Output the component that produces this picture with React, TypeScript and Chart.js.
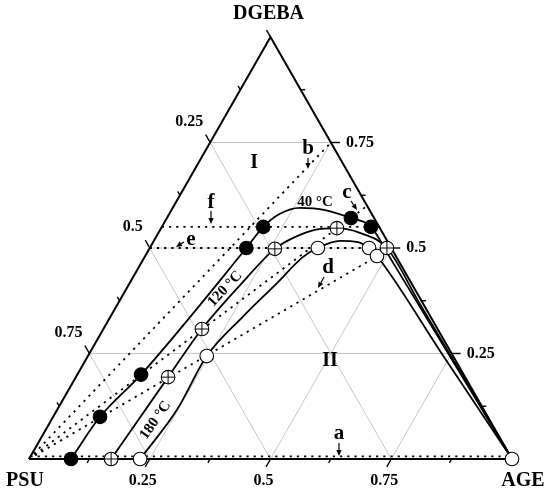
import React, { useEffect, useRef } from 'react';
import { Chart, registerables } from 'chart.js';

Chart.register(...registerables);

// composition triples: [PSU, DGEBA, AGE] (weight fractions)
type Comp = [number, number, number];

const VERTEX_NAMES = ['PSU', 'DGEBA', 'AGE'];
const GRID_LEVELS = [0.25, 0.5, 0.75];
const MAJOR_TICKS = [0.25, 0.5, 0.75];
const MINOR_TICKS = [0.125, 0.375, 0.625, 0.875];
const BOTTOM_TICK_LABELS = ['0.25', '0.5', '0.75']; // AGE
const RIGHT_TICK_LABELS = ['0.25', '0.5', '0.75']; // DGEBA
const LEFT_TICK_LABELS = ['0.75', '0.5', '0.25']; // PSU (at DGEBA = 0.25, 0.5, 0.75)

// cloud-point curves
const CURVE_40C: Comp[] = [
  [0.913, 0, 0.087], [0.803, 0.1, 0.097], [0.668, 0.2, 0.132], [0.3, 0.5, 0.2],
  [0.24, 0.55, 0.21], [0.19, 0.581, 0.229], [0.142, 0.595, 0.263], [0.092, 0.59, 0.318],
  [0.048, 0.571, 0.381], [0.017, 0.55, 0.433], [0.014, 0.476, 0.51], [0, 0, 1],
];
const POINTS_40C: Comp[] = [
  [0.913, 0, 0.087], [0.803, 0.1, 0.097], [0.668, 0.2, 0.132], [0.3, 0.5, 0.2],
  [0.24, 0.55, 0.21], [0.048, 0.571, 0.381], [0.017, 0.55, 0.433],
];

const CURVE_120C: Comp[] = [
  [0.83, 0, 0.17], [0.615, 0.194, 0.191], [0.488, 0.308, 0.204], [0.357, 0.412, 0.231],
  [0.242, 0.498, 0.26], [0.186, 0.526, 0.288], [0.137, 0.543, 0.32], [0.089, 0.547, 0.364],
  [0.047, 0.536, 0.417], [0.009, 0.5, 0.491], [0.007, 0.368, 0.625], [0, 0, 1],
];
const POINTS_120C: Comp[] = [
  [0.83, 0, 0.17], [0.615, 0.194, 0.191], [0.488, 0.308, 0.204], [0.242, 0.498, 0.26],
  [0.089, 0.547, 0.364], [0.009, 0.5, 0.491],
];

const CURVE_180C: Comp[] = [
  [0.77, 0, 0.23], [0.636, 0.116, 0.248], [0.51, 0.244, 0.246], [0.389, 0.337, 0.274],
  [0.278, 0.417, 0.305], [0.193, 0.479, 0.328], [0.152, 0.5, 0.348], [0.098, 0.517, 0.385],
  [0.062, 0.514, 0.424], [0.046, 0.5, 0.454], [0.039, 0.481, 0.48], [0.021, 0.256, 0.723],
  [0, 0, 1],
];
const POINTS_180C: Comp[] = [
  [0.77, 0, 0.23], [0.51, 0.244, 0.246], [0.152, 0.5, 0.348], [0.046, 0.5, 0.454],
  [0.039, 0.481, 0.48], [0, 0, 1],
];

// experimental paths (dotted)
const PATH_A: Comp[] = [[0.994, 0.006, 0], [0, 0.006, 0.994]];
const PATH_B: Comp[] = [[1, 0, 0], [0, 0.75, 0.25]];
const PATH_C: Comp[] = [[1, 0, 0], [0, 0.6, 0.4]];
const PATH_D: Comp[] = [[1, 0, 0], [0, 0.5, 0.5]];
const PATH_E: Comp[] = [[0.5, 0.5, 0], [0, 0.5, 0.5]];
const PATH_F: Comp[] = [[0.45, 0.55, 0], [0, 0.55, 0.45]];

const TEMP_LABELS = ['40 °C', '120 °C', '180 °C'];
const REGION_LABELS = ['I', 'II'];
const PATH_LABELS = ['a', 'b', 'c', 'd', 'e', 'f'];

// annotation layout (chart units: x = AGE + DGEBA/2, y = DGEBA)
const TEMP_LAYOUT = [
  { x: 0.592, y: 0.609, rot: 0 },
  { x: 0.406, y: 0.403, rot: -47 },
  { x: 0.262, y: 0.092, rot: -55 },
];
const REGION_LAYOUT = [
  { x: 0.466, y: 0.701 },
  { x: 0.623, y: 0.232 },
];
const PATH_LABEL_LAYOUT = [
  { lx: 0.6418, ly: 0.0592, sx: 0.6418, sy: 0.0379, tx: 0.6418, ty: 0.0071 },
  { lx: 0.5776, ly: 0.7346, sx: 0.5776, sy: 0.7133, tx: 0.5776, ty: 0.6872 },
  { lx: 0.6584, ly: 0.6303, sx: 0.6667, sy: 0.6114, tx: 0.6791, ty: 0.59 },
  { lx: 0.619, ly: 0.4526, sx: 0.6108, sy: 0.4313, tx: 0.5983, ty: 0.4052 },
  { lx: 0.3354, ly: 0.519, sx: 0.3209, sy: 0.5142, tx: 0.3043, ty: 0.5024 },
  { lx: 0.3768, ly: 0.6066, sx: 0.3768, sy: 0.5877, tx: 0.3768, ty: 0.5569 },
];

const SERIF = '"Liberation Serif", "Times New Roman", serif';

const toXY = (c: Comp) => ({ x: c[2] + c[1] / 2, y: c[1] });

function lineDs(pts: Comp[], opts: any = {}) {
  return {
    type: 'line',
    data: pts.map(toXY),
    borderColor: '#000',
    borderWidth: 1.5,
    pointRadius: 0,
    fill: false,
    clip: false,
    tension: 0,
    ...opts,
  };
}

const decorPlugin = {
  id: 'ternaryDecor',
  beforeDatasetsDraw(chart: any) {
    const ctx = chart.ctx;
    const xs = chart.scales.x;
    const ys = chart.scales.y;
    const P = (c: Comp) => [xs.getPixelForValue(c[2] + c[1] / 2), ys.getPixelForValue(c[1])];
    const pPSU = P([1, 0, 0]);
    const pAGE = P([0, 0, 1]);
    const pDGE = P([0, 1, 0]);
    const unit = (a: number[], b: number[]) => {
      const dx = b[0] - a[0];
      const dy = b[1] - a[1];
      const l = Math.hypot(dx, dy);
      return [dx / l, dy / l];
    };
    const dBottom = unit(pDGE, pPSU);
    const dRight = unit(pPSU, pAGE);
    const dLeft = unit(pAGE, pDGE);
    ctx.save();
    ctx.strokeStyle = '#000';
    ctx.lineWidth = 1.4;
    const tick = (p: number[], d: number[], len: number) => {
      ctx.beginPath();
      ctx.moveTo(p[0], p[1]);
      ctx.lineTo(p[0] + d[0] * len, p[1] + d[1] * len);
      ctx.stroke();
    };
    const all = [
      ...MAJOR_TICKS.map((v) => ({ v, len: 9 })),
      ...MINOR_TICKS.map((v) => ({ v, len: 4.5 })),
    ];
    all.forEach(({ v, len }) => {
      tick(P([1 - v, 0, v]), dBottom, len);
      tick(P([0, v, 1 - v]), dRight, len);
      tick(P([1 - v, v, 0]), dLeft, len);
    });
    tick(pDGE, dLeft, 8);

    ctx.fillStyle = '#000';
    ctx.font = `bold 16px ${SERIF}`;
    ctx.textBaseline = 'middle';
    MAJOR_TICKS.forEach((v, i) => {
      const b = P([1 - v, 0, v]);
      ctx.textAlign = 'center';
      ctx.fillText(BOTTOM_TICK_LABELS[i], b[0] - 7, b[1] + 22);
      const r = P([0, v, 1 - v]);
      ctx.textAlign = 'left';
      ctx.fillText(RIGHT_TICK_LABELS[i], r[0] + 15, r[1]);
      const l = P([1 - v, v, 0]);
      ctx.textAlign = 'right';
      ctx.fillText(LEFT_TICK_LABELS[i], l[0] - 7, l[1] - 21);
    });

    ctx.font = `bold 20px ${SERIF}`;
    ctx.textAlign = 'center';
    ctx.fillText(VERTEX_NAMES[0], pPSU[0] - 4, pPSU[1] + 22);
    ctx.fillText(VERTEX_NAMES[1], pDGE[0] - 2, pDGE[1] - 23);
    ctx.fillText(VERTEX_NAMES[2], pAGE[0] + 11, pAGE[1] + 22);
    ctx.restore();
  },
  afterDatasetsDraw(chart: any) {
    const ctx = chart.ctx;
    const xs = chart.scales.x;
    const ys = chart.scales.y;
    const Q = (x: number, y: number) => [xs.getPixelForValue(x), ys.getPixelForValue(y)];
    ctx.save();
    ctx.fillStyle = '#000';
    ctx.strokeStyle = '#000';
    ctx.textAlign = 'center';
    ctx.textBaseline = 'middle';

    ctx.font = `bold 20px ${SERIF}`;
    REGION_LABELS.forEach((t, i) => {
      const p = Q(REGION_LAYOUT[i].x, REGION_LAYOUT[i].y);
      ctx.fillText(t, p[0], p[1]);
    });

    ctx.font = `bold 15px ${SERIF}`;
    TEMP_LABELS.forEach((t, i) => {
      const L = TEMP_LAYOUT[i];
      const p = Q(L.x, L.y);
      ctx.save();
      ctx.translate(p[0], p[1]);
      ctx.rotate((L.rot * Math.PI) / 180);
      ctx.fillText(t, 0, 0);
      ctx.restore();
    });

    ctx.font = `bold 21px ${SERIF}`;
    PATH_LABELS.forEach((t, i) => {
      const L = PATH_LABEL_LAYOUT[i];
      const lp = Q(L.lx, L.ly);
      ctx.fillText(t, lp[0], lp[1]);
      const s = Q(L.sx, L.sy);
      const e = Q(L.tx, L.ty);
      const ang = Math.atan2(e[1] - s[1], e[0] - s[0]);
      const head = 6;
      const hw = 2.6;
      const bx = e[0] - Math.cos(ang) * head;
      const by = e[1] - Math.sin(ang) * head;
      ctx.lineWidth = 1.2;
      ctx.beginPath();
      ctx.moveTo(s[0], s[1]);
      ctx.lineTo(bx, by);
      ctx.stroke();
      ctx.beginPath();
      ctx.moveTo(e[0], e[1]);
      ctx.lineTo(bx - Math.sin(ang) * hw, by + Math.cos(ang) * hw);
      ctx.lineTo(bx + Math.sin(ang) * hw, by - Math.cos(ang) * hw);
      ctx.closePath();
      ctx.fill();
    });
    ctx.restore();
  },
};

export default function App() {
  const ref = useRef<HTMLCanvasElement | null>(null);

  useEffect(() => {
    if (!ref.current) return;

    const grid: any[] = [];
    GRID_LEVELS.forEach((v) => {
      grid.push(lineDs([[1 - v, v, 0], [0, v, 1 - v]], { borderColor: '#c6c6c6', borderWidth: 1 }));
      grid.push(lineDs([[1 - v, 0, v], [0, 1 - v, v]], { borderColor: '#c6c6c6', borderWidth: 1 }));
      grid.push(lineDs([[v, 0, 1 - v], [v, 1 - v, 0]], { borderColor: '#c6c6c6', borderWidth: 1 }));
    });

    const dotted = { borderDash: [2.2, 5], borderWidth: 1.8, borderCapStyle: 'butt' };
    const paths = [PATH_A, PATH_B, PATH_C, PATH_D, PATH_E, PATH_F].map((p) => lineDs(p, dotted));

    const curveOpts = { cubicInterpolationMode: 'monotone', borderWidth: 1.8 };
    const marker = (pts: Comp[], o: any) => ({
      type: 'scatter',
      data: pts.map(toXY),
      pointRadius: 6.8,
      pointHoverRadius: 6.8,
      borderColor: '#000',
      borderWidth: 1.1,
      clip: false,
      ...o,
    });

    const datasets: any[] = [
      // top-most first
      marker(POINTS_120C, { pointStyle: 'cross', backgroundColor: '#000', borderWidth: 1 }),
      marker(POINTS_120C, { pointStyle: 'circle', backgroundColor: '#fff' }),
      marker(POINTS_180C, { pointStyle: 'circle', backgroundColor: '#fff' }),
      marker(POINTS_40C, { pointStyle: 'circle', backgroundColor: '#000' }),
      lineDs(CURVE_40C, curveOpts),
      lineDs(CURVE_120C, curveOpts),
      lineDs(CURVE_180C, curveOpts),
      ...paths,
      lineDs([[1, 0, 0], [0, 0, 1], [0, 1, 0], [1, 0, 0]], { borderWidth: 2, borderJoinStyle: 'miter' }),
      ...grid,
    ];

    const chart = new Chart(ref.current, {
      type: 'scatter',
      data: { datasets },
      options: {
        animation: false,
        responsive: false,
        maintainAspectRatio: false,
        events: [],
        layout: { padding: { left: 29, right: 38, top: 37, bottom: 32 } },
        scales: {
          x: { type: 'linear', min: 0, max: 1, display: false },
          y: { type: 'linear', min: 0, max: 1, display: false },
        },
        plugins: { legend: { display: false }, tooltip: { enabled: false } },
      },
      plugins: [decorPlugin],
    } as any);

    return () => chart.destroy();
  }, []);

  return (
    <div style={{ position: 'fixed', left: 0, top: 0, width: 550, height: 491, background: '#fff' }}>
      <canvas ref={ref} width={550} height={491} style={{ display: 'block' }} />
    </div>
  );
}
